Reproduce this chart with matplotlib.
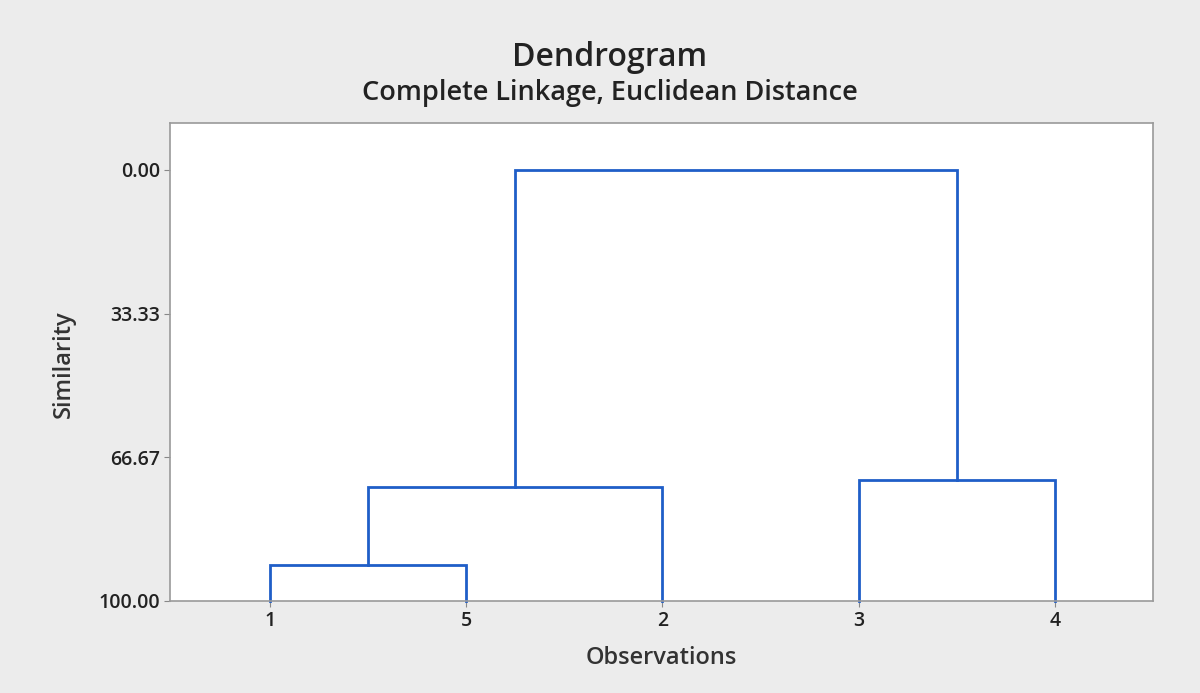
import matplotlib
matplotlib.use("Agg")
import matplotlib.pyplot as plt

# observations in dendrogram leaf order
obs_labels = ['1', '5', '2', '3', '4']
# merges: (left cluster, right cluster, similarity); clusters 0-4 are leaves, new ids start at 5
merge_left = [0, 5, 3, 6]
merge_right = [1, 2, 4, 7]
merge_sim = [91.6, 73.5, 71.9, 0.0]
y_ticks = [0.00, 33.33, 66.67, 100.00]

plt.rcParams['font.family'] = ['Open Sans', 'DejaVu Sans']

fig = plt.figure(figsize=(12, 6.93), dpi=100)
fig.patch.set_facecolor('#ececec')
ax = fig.add_axes([170 / 1200, 1 - 601 / 693, (1153 - 170) / 1200, (601 - 123) / 693])
ax.set_facecolor('white')

line_col = '#1f5ec8'
xpos = {i: i + 1 for i in range(len(obs_labels))}
ypos = {i: 100.0 for i in range(len(obs_labels))}
for k, (a, b, s) in enumerate(zip(merge_left, merge_right, merge_sim)):
    xa, xb = xpos[a], xpos[b]
    ax.plot([xa, xa, xb, xb], [ypos[a], s, s, ypos[b]], color=line_col, lw=2,
            solid_joinstyle='miter', clip_on=False)
    new_id = len(obs_labels) + k
    xpos[new_id] = (xa + xb) / 2
    ypos[new_id] = s

ax.set_xlim(0.49, 5.5)
ax.set_ylim(100, -10.9)
ax.set_xticks(range(1, len(obs_labels) + 1))
ax.set_xticklabels(obs_labels)
ax.set_yticks(y_ticks)
ax.set_yticklabels(['%.2f' % v for v in y_ticks])
ax.tick_params(length=4, width=0.8, color='#888888', labelsize=14, pad=3, labelcolor='#222222')
for t in ax.get_xticklabels() + ax.get_yticklabels():
    t.set_fontweight('semibold')

for sp in ax.spines.values():
    sp.set_color('#9a9a9a')
    sp.set_linewidth(1.2)

ax.set_xlabel('Observations', fontsize=17, color='#333333', labelpad=11, fontweight='semibold')
ax.set_ylabel('Similarity', fontsize=17, color='#333333', labelpad=8, fontweight='semibold')
ax.yaxis.set_label_coords((76 - 170) / 983, 1 - (364 - 123) / 478)

fig.text(610 / 1200, 1 - 58 / 693, 'Dendrogram', ha='center', va='center', fontsize=23,
         color='#222222', fontweight='semibold')
fig.text(610 / 1200, 1 - 93 / 693, 'Complete Linkage, Euclidean Distance', ha='center', va='center',
         fontsize=19.5, color='#222222', fontweight='semibold')

fig.savefig('out.png', dpi=100, facecolor=fig.get_facecolor())
